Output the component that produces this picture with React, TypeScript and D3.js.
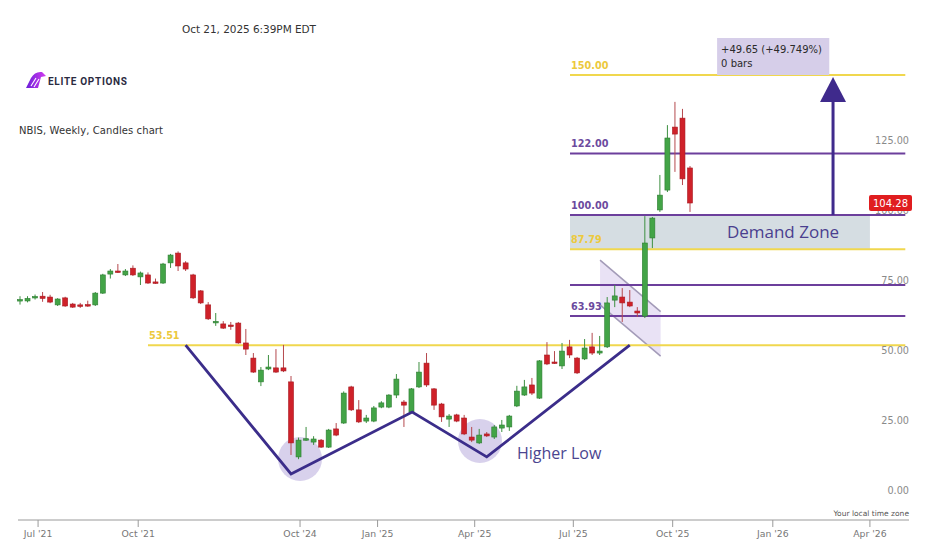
import { useEffect, useRef } from "react";
import * as d3 from "d3";

const W = 930;
const H = 549;

// Weekly candles (bar index order, the 2022-2024 halt is skipped)
const opens = [
  69.5, 69.3, 70.4, 71.0, 70.7, 67.9, 70.4, 68.2, 67.9, 68.0, 67.9, 72.1, 78.9, 80.0, 78.6, 81.0, 77.9, 78.6, 76.1, 75.7,
  82.9, 86.4, 82.9, 78.6, 72.9, 67.9, 61.5, 61.1, 60.7, 61.4, 54.3, 48.9, 40.4, 45.0, 45.4, 45.4, 40.4,
  13.6, 19.8, 18.9, 19.6, 17.1, 23.6, 25.7, 38.6, 30.4, 26.4, 26.4, 31.4, 31.4, 35.7, 33.2, 29.6, 38.6, 47.1, 37.9, 32.5,
  27.1, 28.6, 27.5, 20.7, 18.6, 21.8, 20.7, 23.9, 24.3, 31.8, 35.7, 39.3, 34.6, 50.0, 47.5, 46.1, 52.9, 48.9, 48.6, 52.9,
  50.7, 52.9, 69.6, 70.7, 68.9, 65.7, 63.9, 91.8, 101.8, 108.9, 131.4, 134.6, 116.8,
];
const highs = [
  71.0, 71.0, 71.6, 72.5, 71.5, 70.3, 70.8, 68.6, 68.6, 69.4, 72.5, 79.0, 80.7, 82.5, 80.7, 82.0, 79.8, 79.5, 77.3, 82.9,
  86.1, 87.0, 83.5, 79.0, 73.2, 68.9, 65.0, 62.1, 61.8, 61.8, 59.3, 50.7, 45.7, 50.0, 52.1, 53.6, 42.5,
  20.5, 24.3, 21.0, 20.0, 23.6, 25.7, 37.0, 39.0, 33.9, 28.6, 31.8, 33.5, 36.0, 43.2, 33.9, 38.2, 47.5, 50.7, 38.2, 32.9,
  28.9, 29.0, 28.6, 24.3, 23.6, 22.5, 25.0, 26.8, 28.6, 39.0, 41.1, 41.8, 48.2, 54.6, 51.4, 54.3, 55.4, 49.3, 55.7, 57.9,
  56.8, 70.7, 75.0, 73.9, 73.2, 67.1, 99.6, 99.3, 114.3, 132.1, 140.4, 137.9, 117.5,
];
const lows = [
  68.0, 68.8, 69.8, 69.0, 68.5, 67.5, 67.2, 66.8, 66.8, 67.2, 67.5, 71.8, 77.3, 79.3, 78.2, 78.2, 75.0, 75.4, 75.4, 75.4,
  81.1, 80.0, 80.0, 70.0, 68.2, 62.5, 60.4, 59.3, 59.0, 54.0, 50.0, 43.6, 38.9, 44.6, 43.6, 43.9, 14.3,
  12.8, 19.3, 17.9, 16.8, 16.8, 21.0, 25.4, 30.0, 25.7, 25.7, 26.0, 31.0, 31.0, 34.6, 24.3, 29.3, 38.2, 38.6, 30.4, 26.1,
  24.3, 26.0, 21.4, 18.9, 18.2, 20.7, 20.0, 22.5, 22.9, 31.4, 35.4, 35.7, 34.3, 46.4, 46.8, 45.0, 48.9, 43.2, 48.2, 50.0,
  50.0, 52.5, 67.1, 61.8, 67.1, 63.6, 63.2, 88.2, 101.1, 108.2, 115.4, 110.7, 101.1,
];
const closes = [
  69.8, 70.2, 70.9, 70.2, 68.9, 70.0, 67.5, 67.1, 67.7, 67.5, 72.1, 78.6, 80.0, 79.6, 80.0, 78.6, 79.3, 75.7, 75.7, 82.5,
  85.7, 81.8, 80.7, 70.4, 68.6, 62.9, 62.0, 59.6, 60.2, 54.3, 52.1, 43.9, 44.6, 45.7, 43.9, 44.3, 18.6,
  19.6, 20.1, 20.0, 17.1, 23.2, 21.4, 36.4, 30.4, 26.1, 27.5, 31.1, 32.9, 35.7, 41.4, 32.1, 37.9, 43.9, 39.3, 32.1, 27.9,
  28.2, 26.4, 21.8, 19.6, 21.4, 21.1, 24.3, 25.0, 28.2, 37.1, 38.6, 36.4, 47.9, 46.8, 47.3, 51.4, 50.0, 43.6, 52.5, 50.7,
  51.4, 68.6, 71.1, 68.6, 67.5, 65.0, 90.0, 98.9, 107.1, 127.5, 128.9, 112.9, 104.28,
];

const xTickIndex = [2.4, 15.7, 37.2, 47.5, 60.4, 73.5, 86.7, 100, 112.9];
const xTickLabels = ["Jul '21", "Oct '21", "Oct '24", "Jan '25", "Apr '25", "Jul '25", "Oct '25", "Jan '26", "Apr '26"];
const yTicks = [0, 25, 50, 75, 100, 125];

// drawn levels
const goldLevels = [150, 87.79, 53.51];
const purpleLevels = [122, 100, 75, 63.93];
const labelledLevels = [150, 122, 100, 87.79, 63.93, 53.51];
const demandZone = [87.79, 100];

// double bottom / higher low path
const patternIndex = [22, 36, 52.1, 62, 81];
const patternPrice = [53.51, 7.5, 29.6, 13.6, 53.51];
const lowIndex = [37.2, 61.1];
const lowPrice = [12.9, 19.3];

// bull flag channel
const flagIndex = [77.05, 85.1];
const flagUpper = [83.9, 65.5];
const flagLower = [67.9, 49.6];

const lastPrice = 104.28;
const targetPrice = 150;
const measureLines = ["+49.65 (+49.749%)", "0 bars"];

const FONT = "'DejaVu Sans', Verdana, sans-serif";

export default function App() {
  const svgRef = useRef<SVGSVGElement>(null);

  useEffect(() => {
    if (!svgRef.current) return;
    const svg = d3.select(svgRef.current);
    svg.selectAll("*").remove();

    const x = d3.scaleLinear().domain([0, 89]).range([20, 690]);
    const y = d3.scaleLinear().domain([0, 150]).range([495, 75]);

    const levelStart = x(73.06);
    const levelEnd = x(117.6);

    svg.append("rect").attr("width", W).attr("height", H).attr("fill", "#fff");

    // header
    svg.append("text").attr("x", 182).attr("y", 33).attr("font-family", FONT).attr("font-size", 10.5)
      .attr("fill", "#333").attr("textLength", 134).text("Oct 21, 2025 6:39PM EDT");

    const grad = svg.append("defs").append("linearGradient").attr("id", "logo").attr("x1", "0").attr("x2", "1");
    grad.append("stop").attr("offset", "0").attr("stop-color", "#6a1fd8");
    grad.append("stop").attr("offset", "1").attr("stop-color", "#d43cf0");
    svg.append("path").attr("d", "M26,88 L31,78 Q35,71 42,72 L46,76 L41,77 L38,88 Z").attr("fill", "url(#logo)");
    svg.append("path").attr("d", "M31,86 L36,78 M34,87 L39,79").attr("stroke", "#fff").attr("stroke-width", 1.1);
    svg.append("text").attr("x", 48).attr("y", 85).attr("font-family", "Roboto, sans-serif").attr("font-weight", 700)
      .attr("font-size", 10).attr("fill", "#2b2b3f").attr("textLength", 79).text("ELITE OPTIONS");

    svg.append("text").attr("x", 19).attr("y", 134).attr("font-family", FONT).attr("font-size", 10)
      .attr("fill", "#333").attr("textLength", 144).text("NBIS, Weekly, Candles chart");

    // demand zone
    svg.append("rect").attr("x", levelStart).attr("y", y(demandZone[1]))
      .attr("width", x(112.9) - levelStart).attr("height", y(demandZone[0]) - y(demandZone[1]))
      .attr("fill", "#d5dde2");
    svg.append("text").attr("x", 783).attr("y", (y(demandZone[0]) + y(demandZone[1])) / 2 + 6)
      .attr("text-anchor", "middle").attr("font-family", "'Open Sans', sans-serif").attr("font-size", 17)
      .attr("fill", "#4a3f8f").text("Demand Zone");

    // flag channel
    const fx0 = x(flagIndex[0]);
    const fx1 = x(flagIndex[1]);
    svg.append("path")
      .attr("d", `M${fx0},${y(flagUpper[0])} L${fx1},${y(flagUpper[1])} L${fx1},${y(flagLower[1])} L${fx0},${y(flagLower[0])} Z`)
      .attr("fill", "#e9e2f5");
    [flagUpper, flagLower].forEach((p) => {
      svg.append("line").attr("x1", fx0).attr("y1", y(p[0])).attr("x2", fx1).attr("y2", y(p[1]))
        .attr("stroke", "#a39bb8").attr("stroke-width", 1.5);
    });

    // low circles
    lowIndex.forEach((d, i) => {
      svg.append("circle").attr("cx", x(d)).attr("cy", y(lowPrice[i])).attr("r", 22)
        .attr("fill", "#cbc2e6").attr("opacity", 0.75);
    });

    // levels
    const levels = [
      ...goldLevels.map((v) => ({ v, gold: true })),
      ...purpleLevels.map((v) => ({ v, gold: false })),
    ];
    levels.forEach(({ v, gold }) => {
      const x0 = v === 53.51 ? x(17) : levelStart;
      svg.append("line").attr("x1", x0).attr("x2", levelEnd).attr("y1", y(v)).attr("y2", y(v))
        .attr("stroke", gold ? "#f0d74e" : "#6c3f9c").attr("stroke-width", 2);
      if (labelledLevels.includes(v)) {
        svg.append("text").attr("x", x0 + 1).attr("y", y(v) - 6).attr("font-family", FONT).attr("font-size", 9.7)
          .attr("font-weight", 600).attr("fill", gold ? "#ecc93c" : "#6c4a9e").text(v.toFixed(2));
      }
    });

    // y axis labels
    yTicks.forEach((t) => {
      svg.append("text").attr("x", 909).attr("y", y(t) - 1.5).attr("text-anchor", "end")
        .attr("font-family", FONT).attr("font-size", 9.7).attr("fill", "#8a8a8a").text(t.toFixed(2));
    });

    // candles
    const data = opens.map((o, i) => ({ i, o, h: highs[i], l: lows[i], c: closes[i] }));
    const bw = 5;
    const g = svg.append("g");
    data.forEach((d) => {
      const up = d.c >= d.o;
      const col = up ? "#43a447" : "#cf2129";
      const edge = up ? "#2e7d32" : "#a81c23";
      const cx = x(d.i);
      g.append("line").attr("x1", cx).attr("x2", cx).attr("y1", y(d.h)).attr("y2", y(d.l))
        .attr("stroke", up ? "#3d8f40" : "#b5494e").attr("stroke-width", 1);
      const top = y(Math.max(d.o, d.c));
      const hgt = Math.max(1.5, Math.abs(y(d.o) - y(d.c)));
      g.append("rect").attr("x", cx - bw / 2).attr("y", top).attr("width", bw).attr("height", hgt)
        .attr("fill", col).attr("stroke", edge).attr("stroke-width", 0.6);
    });

    // pattern lines
    const line = d3.line<number>().x((d) => x(d)).y((_, i) => y(patternPrice[i]));
    svg.append("path").attr("d", line(patternIndex)).attr("fill", "none")
      .attr("stroke", "#3b2d8a").attr("stroke-width", 2.8).attr("stroke-linejoin", "miter");
    svg.append("text").attr("x", 517).attr("y", 459).attr("font-family", "'Open Sans', sans-serif")
      .attr("font-size", 16).attr("fill", "#4b4590").text("Higher Low");

    // target arrow
    const ax = x(108);
    svg.append("line").attr("x1", ax).attr("x2", ax).attr("y1", y(demandZone[1])).attr("y2", 100)
      .attr("stroke", "#3f2a8c").attr("stroke-width", 3);
    svg.append("path").attr("d", `M${ax - 13},${102} L${ax + 13},${102} L${ax},${y(targetPrice) + 2} Z`)
      .attr("fill", "#3f2a8c");

    // measure box
    svg.append("rect").attr("x", x(92.6)).attr("y", 38).attr("width", x(107.5) - x(92.6)).attr("height", y(targetPrice) - 38)
      .attr("fill", "#d6cee9");
    measureLines.forEach((t, i) => {
      svg.append("text").attr("x", x(92.6) + 4).attr("y", 53 + i * 14).attr("font-family", FONT)
        .attr("font-size", 10).attr("fill", "#2a2a2a").text(t);
    });

    // last price tag
    svg.append("rect").attr("x", 869).attr("y", y(lastPrice) - 8).attr("width", 43).attr("height", 16).attr("rx", 2)
      .attr("fill", "#e01d1f");
    svg.append("text").attr("x", 890.5).attr("y", y(lastPrice) + 4).attr("text-anchor", "middle")
      .attr("font-family", FONT).attr("font-size", 10).attr("fill", "#fff").text(lastPrice.toFixed(2));

    // x axis
    svg.append("line").attr("x1", 18).attr("x2", 909).attr("y1", 520).attr("y2", 520).attr("stroke", "#9a9a9a");
    xTickIndex.forEach((t, i) => {
      const tx = x(t);
      svg.append("line").attr("x1", tx).attr("x2", tx).attr("y1", 520).attr("y2", 527).attr("stroke", "#9a9a9a");
      svg.append("text").attr("x", tx).attr("y", 537).attr("text-anchor", "middle").attr("font-family", FONT)
        .attr("font-size", 9.3).attr("fill", "#777").text(xTickLabels[i]);
    });
    svg.append("text").attr("x", 909).attr("y", 516).attr("text-anchor", "end").attr("font-family", FONT)
      .attr("font-size", 7.5).attr("fill", "#555").text("Your local time zone");
  }, []);

  return (
    <svg ref={svgRef} width={W} height={H} style={{ position: "absolute", left: 0, top: 0 }} />
  );
}
